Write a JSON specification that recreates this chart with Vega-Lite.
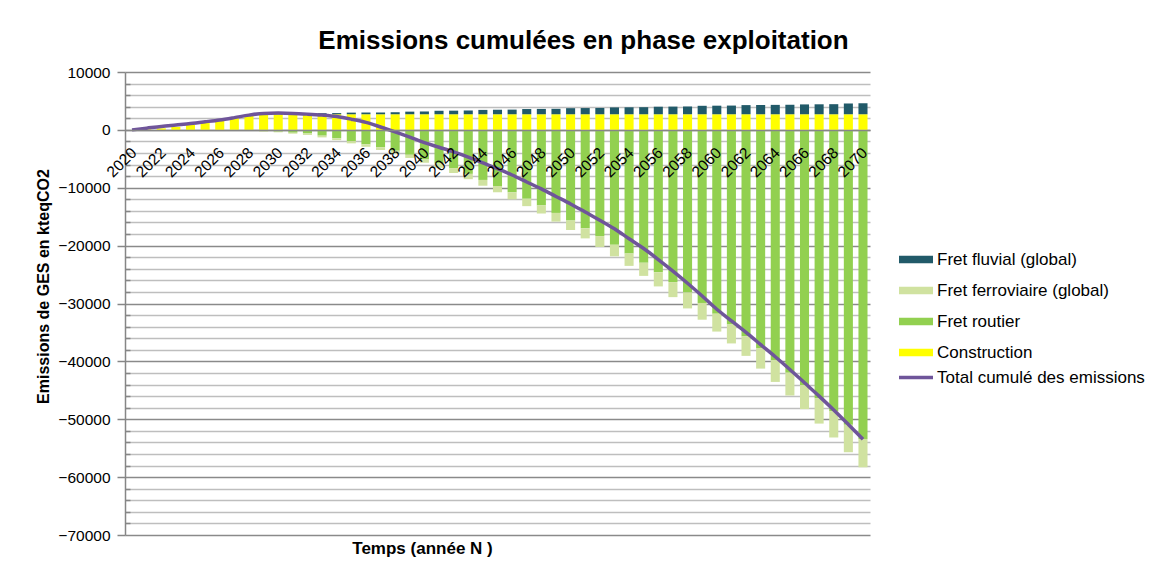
{
  "$schema": "https://vega.github.io/schema/vega-lite/v6.json",
  "width": 745,
  "height": 463,
  "autosize": {"type": "none"},
  "padding": {"left": 125, "top": 72, "right": 281, "bottom": 32},
  "background": "white",
  "config": {"view": {"stroke": null}, "font": "Liberation Sans"},
  "title": {
    "text": "Emissions cumulées en phase exploitation",
    "font": "Liberation Sans",
    "fontSize": 26,
    "fontWeight": "bold",
    "color": "black",
    "anchor": "middle",
    "dx": 86,
    "offset": 11
  },
  "data": {
    "values": [
      {"annee": 2021, "poste": "Construction", "valeur": 100},
      {"annee": 2022, "poste": "Construction", "valeur": 270},
      {"annee": 2023, "poste": "Construction", "valeur": 530},
      {"annee": 2024, "poste": "Construction", "valeur": 880},
      {"annee": 2025, "poste": "Construction", "valeur": 1280},
      {"annee": 2026, "poste": "Construction", "valeur": 1680},
      {"annee": 2027, "poste": "Construction", "valeur": 2060},
      {"annee": 2028, "poste": "Construction", "valeur": 2450},
      {"annee": 2029, "poste": "Construction", "valeur": 2620},
      {"annee": 2030, "poste": "Construction", "valeur": 2680},
      {"annee": 2031, "poste": "Construction", "valeur": 2700},
      {"annee": 2032, "poste": "Construction", "valeur": 2700},
      {"annee": 2033, "poste": "Construction", "valeur": 2700},
      {"annee": 2034, "poste": "Construction", "valeur": 2700},
      {"annee": 2035, "poste": "Construction", "valeur": 2700},
      {"annee": 2036, "poste": "Construction", "valeur": 2700},
      {"annee": 2037, "poste": "Construction", "valeur": 2700},
      {"annee": 2038, "poste": "Construction", "valeur": 2700},
      {"annee": 2039, "poste": "Construction", "valeur": 2700},
      {"annee": 2040, "poste": "Construction", "valeur": 2700},
      {"annee": 2041, "poste": "Construction", "valeur": 2700},
      {"annee": 2042, "poste": "Construction", "valeur": 2700},
      {"annee": 2043, "poste": "Construction", "valeur": 2700},
      {"annee": 2044, "poste": "Construction", "valeur": 2700},
      {"annee": 2045, "poste": "Construction", "valeur": 2700},
      {"annee": 2046, "poste": "Construction", "valeur": 2700},
      {"annee": 2047, "poste": "Construction", "valeur": 2700},
      {"annee": 2048, "poste": "Construction", "valeur": 2700},
      {"annee": 2049, "poste": "Construction", "valeur": 2700},
      {"annee": 2050, "poste": "Construction", "valeur": 2700},
      {"annee": 2051, "poste": "Construction", "valeur": 2700},
      {"annee": 2052, "poste": "Construction", "valeur": 2700},
      {"annee": 2053, "poste": "Construction", "valeur": 2700},
      {"annee": 2054, "poste": "Construction", "valeur": 2700},
      {"annee": 2055, "poste": "Construction", "valeur": 2700},
      {"annee": 2056, "poste": "Construction", "valeur": 2700},
      {"annee": 2057, "poste": "Construction", "valeur": 2700},
      {"annee": 2058, "poste": "Construction", "valeur": 2700},
      {"annee": 2059, "poste": "Construction", "valeur": 2700},
      {"annee": 2060, "poste": "Construction", "valeur": 2700},
      {"annee": 2061, "poste": "Construction", "valeur": 2700},
      {"annee": 2062, "poste": "Construction", "valeur": 2700},
      {"annee": 2063, "poste": "Construction", "valeur": 2700},
      {"annee": 2064, "poste": "Construction", "valeur": 2700},
      {"annee": 2065, "poste": "Construction", "valeur": 2700},
      {"annee": 2066, "poste": "Construction", "valeur": 2700},
      {"annee": 2067, "poste": "Construction", "valeur": 2700},
      {"annee": 2068, "poste": "Construction", "valeur": 2700},
      {"annee": 2069, "poste": "Construction", "valeur": 2700},
      {"annee": 2070, "poste": "Construction", "valeur": 2700},

      {"annee": 2030, "poste": "Fret fluvial (global)", "valeur": 50},
      {"annee": 2031, "poste": "Fret fluvial (global)", "valeur": 120},
      {"annee": 2032, "poste": "Fret fluvial (global)", "valeur": 150},
      {"annee": 2033, "poste": "Fret fluvial (global)", "valeur": 180},
      {"annee": 2034, "poste": "Fret fluvial (global)", "valeur": 200},
      {"annee": 2035, "poste": "Fret fluvial (global)", "valeur": 280},
      {"annee": 2036, "poste": "Fret fluvial (global)", "valeur": 300},
      {"annee": 2037, "poste": "Fret fluvial (global)", "valeur": 320},
      {"annee": 2038, "poste": "Fret fluvial (global)", "valeur": 350},
      {"annee": 2039, "poste": "Fret fluvial (global)", "valeur": 450},
      {"annee": 2040, "poste": "Fret fluvial (global)", "valeur": 480},
      {"annee": 2041, "poste": "Fret fluvial (global)", "valeur": 600},
      {"annee": 2042, "poste": "Fret fluvial (global)", "valeur": 620},
      {"annee": 2043, "poste": "Fret fluvial (global)", "valeur": 650},
      {"annee": 2044, "poste": "Fret fluvial (global)", "valeur": 750},
      {"annee": 2045, "poste": "Fret fluvial (global)", "valeur": 780},
      {"annee": 2046, "poste": "Fret fluvial (global)", "valeur": 800},
      {"annee": 2047, "poste": "Fret fluvial (global)", "valeur": 900},
      {"annee": 2048, "poste": "Fret fluvial (global)", "valeur": 920},
      {"annee": 2049, "poste": "Fret fluvial (global)", "valeur": 940},
      {"annee": 2050, "poste": "Fret fluvial (global)", "valeur": 1050},
      {"annee": 2051, "poste": "Fret fluvial (global)", "valeur": 1070},
      {"annee": 2052, "poste": "Fret fluvial (global)", "valeur": 1090},
      {"annee": 2053, "poste": "Fret fluvial (global)", "valeur": 1180},
      {"annee": 2054, "poste": "Fret fluvial (global)", "valeur": 1200},
      {"annee": 2055, "poste": "Fret fluvial (global)", "valeur": 1220},
      {"annee": 2056, "poste": "Fret fluvial (global)", "valeur": 1300},
      {"annee": 2057, "poste": "Fret fluvial (global)", "valeur": 1320},
      {"annee": 2058, "poste": "Fret fluvial (global)", "valeur": 1340},
      {"annee": 2059, "poste": "Fret fluvial (global)", "valeur": 1460},
      {"annee": 2060, "poste": "Fret fluvial (global)", "valeur": 1480},
      {"annee": 2061, "poste": "Fret fluvial (global)", "valeur": 1500},
      {"annee": 2062, "poste": "Fret fluvial (global)", "valeur": 1580},
      {"annee": 2063, "poste": "Fret fluvial (global)", "valeur": 1600},
      {"annee": 2064, "poste": "Fret fluvial (global)", "valeur": 1620},
      {"annee": 2065, "poste": "Fret fluvial (global)", "valeur": 1640},
      {"annee": 2066, "poste": "Fret fluvial (global)", "valeur": 1700},
      {"annee": 2067, "poste": "Fret fluvial (global)", "valeur": 1720},
      {"annee": 2068, "poste": "Fret fluvial (global)", "valeur": 1740},
      {"annee": 2069, "poste": "Fret fluvial (global)", "valeur": 1860},
      {"annee": 2070, "poste": "Fret fluvial (global)", "valeur": 1900},

      {"annee": 2028, "poste": "Fret routier", "valeur": -50},
      {"annee": 2029, "poste": "Fret routier", "valeur": -200},
      {"annee": 2030, "poste": "Fret routier", "valeur": -300},
      {"annee": 2031, "poste": "Fret routier", "valeur": -490},
      {"annee": 2032, "poste": "Fret routier", "valeur": -620},
      {"annee": 2033, "poste": "Fret routier", "valeur": -1000},
      {"annee": 2034, "poste": "Fret routier", "valeur": -1450},
      {"annee": 2035, "poste": "Fret routier", "valeur": -1950},
      {"annee": 2036, "poste": "Fret routier", "valeur": -2500},
      {"annee": 2037, "poste": "Fret routier", "valeur": -3000},
      {"annee": 2038, "poste": "Fret routier", "valeur": -3600},
      {"annee": 2039, "poste": "Fret routier", "valeur": -4300},
      {"annee": 2040, "poste": "Fret routier", "valeur": -5100},
      {"annee": 2041, "poste": "Fret routier", "valeur": -5800},
      {"annee": 2042, "poste": "Fret routier", "valeur": -6600},
      {"annee": 2043, "poste": "Fret routier", "valeur": -7600},
      {"annee": 2044, "poste": "Fret routier", "valeur": -8650},
      {"annee": 2045, "poste": "Fret routier", "valeur": -9700},
      {"annee": 2046, "poste": "Fret routier", "valeur": -10800},
      {"annee": 2047, "poste": "Fret routier", "valeur": -11900},
      {"annee": 2048, "poste": "Fret routier", "valeur": -13050},
      {"annee": 2049, "poste": "Fret routier", "valeur": -14350},
      {"annee": 2050, "poste": "Fret routier", "valeur": -15650},
      {"annee": 2051, "poste": "Fret routier", "valeur": -17000},
      {"annee": 2052, "poste": "Fret routier", "valeur": -18350},
      {"annee": 2053, "poste": "Fret routier", "valeur": -19850},
      {"annee": 2054, "poste": "Fret routier", "valeur": -21350},
      {"annee": 2055, "poste": "Fret routier", "valeur": -22950},
      {"annee": 2056, "poste": "Fret routier", "valeur": -24600},
      {"annee": 2057, "poste": "Fret routier", "valeur": -26300},
      {"annee": 2058, "poste": "Fret routier", "valeur": -28100},
      {"annee": 2059, "poste": "Fret routier", "valeur": -29900},
      {"annee": 2060, "poste": "Fret routier", "valeur": -31750},
      {"annee": 2061, "poste": "Fret routier", "valeur": -33650},
      {"annee": 2062, "poste": "Fret routier", "valeur": -35650},
      {"annee": 2063, "poste": "Fret routier", "valeur": -37700},
      {"annee": 2064, "poste": "Fret routier", "valeur": -39800},
      {"annee": 2065, "poste": "Fret routier", "valeur": -41950},
      {"annee": 2066, "poste": "Fret routier", "valeur": -44100},
      {"annee": 2067, "poste": "Fret routier", "valeur": -46350},
      {"annee": 2068, "poste": "Fret routier", "valeur": -48600},
      {"annee": 2069, "poste": "Fret routier", "valeur": -50950},
      {"annee": 2070, "poste": "Fret routier", "valeur": -53400},

      {"annee": 2028, "poste": "Fret ferroviaire (global)", "valeur": -20},
      {"annee": 2029, "poste": "Fret ferroviaire (global)", "valeur": -100},
      {"annee": 2030, "poste": "Fret ferroviaire (global)", "valeur": -120},
      {"annee": 2031, "poste": "Fret ferroviaire (global)", "valeur": -170},
      {"annee": 2032, "poste": "Fret ferroviaire (global)", "valeur": -250},
      {"annee": 2033, "poste": "Fret ferroviaire (global)", "valeur": -300},
      {"annee": 2034, "poste": "Fret ferroviaire (global)", "valeur": -330},
      {"annee": 2035, "poste": "Fret ferroviaire (global)", "valeur": -380},
      {"annee": 2036, "poste": "Fret ferroviaire (global)", "valeur": -420},
      {"annee": 2037, "poste": "Fret ferroviaire (global)", "valeur": -480},
      {"annee": 2038, "poste": "Fret ferroviaire (global)", "valeur": -520},
      {"annee": 2039, "poste": "Fret ferroviaire (global)", "valeur": -550},
      {"annee": 2040, "poste": "Fret ferroviaire (global)", "valeur": -580},
      {"annee": 2041, "poste": "Fret ferroviaire (global)", "valeur": -750},
      {"annee": 2042, "poste": "Fret ferroviaire (global)", "valeur": -850},
      {"annee": 2043, "poste": "Fret ferroviaire (global)", "valeur": -920},
      {"annee": 2044, "poste": "Fret ferroviaire (global)", "valeur": -1000},
      {"annee": 2045, "poste": "Fret ferroviaire (global)", "valeur": -1080},
      {"annee": 2046, "poste": "Fret ferroviaire (global)", "valeur": -1200},
      {"annee": 2047, "poste": "Fret ferroviaire (global)", "valeur": -1280},
      {"annee": 2048, "poste": "Fret ferroviaire (global)", "valeur": -1400},
      {"annee": 2049, "poste": "Fret ferroviaire (global)", "valeur": -1500},
      {"annee": 2050, "poste": "Fret ferroviaire (global)", "valeur": -1650},
      {"annee": 2051, "poste": "Fret ferroviaire (global)", "valeur": -1750},
      {"annee": 2052, "poste": "Fret ferroviaire (global)", "valeur": -1880},
      {"annee": 2053, "poste": "Fret ferroviaire (global)", "valeur": -2000},
      {"annee": 2054, "poste": "Fret ferroviaire (global)", "valeur": -2150},
      {"annee": 2055, "poste": "Fret ferroviaire (global)", "valeur": -2280},
      {"annee": 2056, "poste": "Fret ferroviaire (global)", "valeur": -2450},
      {"annee": 2057, "poste": "Fret ferroviaire (global)", "valeur": -2600},
      {"annee": 2058, "poste": "Fret ferroviaire (global)", "valeur": -2750},
      {"annee": 2059, "poste": "Fret ferroviaire (global)", "valeur": -2900},
      {"annee": 2060, "poste": "Fret ferroviaire (global)", "valeur": -3100},
      {"annee": 2061, "poste": "Fret ferroviaire (global)", "valeur": -3250},
      {"annee": 2062, "poste": "Fret ferroviaire (global)", "valeur": -3400},
      {"annee": 2063, "poste": "Fret ferroviaire (global)", "valeur": -3550},
      {"annee": 2064, "poste": "Fret ferroviaire (global)", "valeur": -3750},
      {"annee": 2065, "poste": "Fret ferroviaire (global)", "valeur": -3950},
      {"annee": 2066, "poste": "Fret ferroviaire (global)", "valeur": -4150},
      {"annee": 2067, "poste": "Fret ferroviaire (global)", "valeur": -4400},
      {"annee": 2068, "poste": "Fret ferroviaire (global)", "valeur": -4550},
      {"annee": 2069, "poste": "Fret ferroviaire (global)", "valeur": -4750},
      {"annee": 2070, "poste": "Fret ferroviaire (global)", "valeur": -4900},

      {"annee": 2020, "poste": "Total cumulé des emissions", "valeur": 0},
      {"annee": 2021, "poste": "Total cumulé des emissions", "valeur": 300},
      {"annee": 2022, "poste": "Total cumulé des emissions", "valeur": 600},
      {"annee": 2023, "poste": "Total cumulé des emissions", "valeur": 850},
      {"annee": 2024, "poste": "Total cumulé des emissions", "valeur": 1100},
      {"annee": 2025, "poste": "Total cumulé des emissions", "valeur": 1400},
      {"annee": 2026, "poste": "Total cumulé des emissions", "valeur": 1720},
      {"annee": 2027, "poste": "Total cumulé des emissions", "valeur": 2120},
      {"annee": 2028, "poste": "Total cumulé des emissions", "valeur": 2550},
      {"annee": 2029, "poste": "Total cumulé des emissions", "valeur": 2850},
      {"annee": 2030, "poste": "Total cumulé des emissions", "valeur": 2900},
      {"annee": 2031, "poste": "Total cumulé des emissions", "valeur": 2850},
      {"annee": 2032, "poste": "Total cumulé des emissions", "valeur": 2720},
      {"annee": 2033, "poste": "Total cumulé des emissions", "valeur": 2550},
      {"annee": 2034, "poste": "Total cumulé des emissions", "valeur": 2300},
      {"annee": 2035, "poste": "Total cumulé des emissions", "valeur": 1850},
      {"annee": 2036, "poste": "Total cumulé des emissions", "valeur": 1300},
      {"annee": 2037, "poste": "Total cumulé des emissions", "valeur": 500},
      {"annee": 2038, "poste": "Total cumulé des emissions", "valeur": -350},
      {"annee": 2039, "poste": "Total cumulé des emissions", "valeur": -1250},
      {"annee": 2040, "poste": "Total cumulé des emissions", "valeur": -2200},
      {"annee": 2041, "poste": "Total cumulé des emissions", "valeur": -3000},
      {"annee": 2042, "poste": "Total cumulé des emissions", "valeur": -3800},
      {"annee": 2043, "poste": "Total cumulé des emissions", "valeur": -4700},
      {"annee": 2044, "poste": "Total cumulé des emissions", "valeur": -5700},
      {"annee": 2045, "poste": "Total cumulé des emissions", "valeur": -6700},
      {"annee": 2046, "poste": "Total cumulé des emissions", "valeur": -7800},
      {"annee": 2047, "poste": "Total cumulé des emissions", "valeur": -9000},
      {"annee": 2048, "poste": "Total cumulé des emissions", "valeur": -10200},
      {"annee": 2049, "poste": "Total cumulé des emissions", "valeur": -11500},
      {"annee": 2050, "poste": "Total cumulé des emissions", "valeur": -12800},
      {"annee": 2051, "poste": "Total cumulé des emissions", "valeur": -14200},
      {"annee": 2052, "poste": "Total cumulé des emissions", "valeur": -15600},
      {"annee": 2053, "poste": "Total cumulé des emissions", "valeur": -17100},
      {"annee": 2054, "poste": "Total cumulé des emissions", "valeur": -18800},
      {"annee": 2055, "poste": "Total cumulé des emissions", "valeur": -20500},
      {"annee": 2056, "poste": "Total cumulé des emissions", "valeur": -22400},
      {"annee": 2057, "poste": "Total cumulé des emissions", "valeur": -24400},
      {"annee": 2058, "poste": "Total cumulé des emissions", "valeur": -26500},
      {"annee": 2059, "poste": "Total cumulé des emissions", "valeur": -28700},
      {"annee": 2060, "poste": "Total cumulé des emissions", "valeur": -31000},
      {"annee": 2061, "poste": "Total cumulé des emissions", "valeur": -33000},
      {"annee": 2062, "poste": "Total cumulé des emissions", "valeur": -35000},
      {"annee": 2063, "poste": "Total cumulé des emissions", "valeur": -37100},
      {"annee": 2064, "poste": "Total cumulé des emissions", "valeur": -39200},
      {"annee": 2065, "poste": "Total cumulé des emissions", "valeur": -41400},
      {"annee": 2066, "poste": "Total cumulé des emissions", "valeur": -43700},
      {"annee": 2067, "poste": "Total cumulé des emissions", "valeur": -46000},
      {"annee": 2068, "poste": "Total cumulé des emissions", "valeur": -48400},
      {"annee": 2069, "poste": "Total cumulé des emissions", "valeur": -50900},
      {"annee": 2070, "poste": "Total cumulé des emissions", "valeur": -53450}
    ]
  },
  "encoding": {
    "x": {
      "field": "annee",
      "type": "ordinal",
      "scale": {"paddingInner": 0.38, "paddingOuter": 0.17},
      "axis": {
        "values": [2020, 2022, 2024, 2026, 2028, 2030, 2032, 2034, 2036, 2038, 2040, 2042, 2044, 2046, 2048, 2050, 2052, 2054, 2056, 2058, 2060, 2062, 2064, 2066, 2068, 2070],
        "offset": -405.125,
        "zindex": 1,
        "grid": false,
        "ticks": false,
        "domainColor": "#868686",
        "domainWidth": 1.5,
        "labelAngle": -45,
        "labelFont": "Liberation Sans",
        "labelFontSize": 15.5,
        "labelColor": "black",
        "labelPadding": 15,
        "labelOffset": -3,
        "labelOverlap": false,
        "labelBound": false,
        "title": "Temps (année N )",
        "titleFont": "Liberation Sans",
        "titleFontSize": 17,
        "titleFontWeight": "bold",
        "titleColor": "black",
        "titleX": 297,
        "titleY": 424,
        "titleAlign": "center",
        "titleBaseline": "alphabetic"
      }
    },
    "y": {
      "field": "valeur",
      "type": "quantitative",
      "scale": {"domain": [-70000, 10000], "nice": false, "zero": false},
      "axis": {
        "values": [-70000, -68000, -66000, -64000, -62000, -60000, -58000, -56000, -54000, -52000, -50000, -48000, -46000, -44000, -42000, -40000, -38000, -36000, -34000, -32000, -30000, -28000, -26000, -24000, -22000, -20000, -18000, -16000, -14000, -12000, -10000, -8000, -6000, -4000, -2000, 0, 2000, 4000, 6000, 8000, 10000],
        "labelExpr": "datum.value % 10000 === 0 ? format(datum.value, 'd') : ''",
        "labelFont": "Liberation Sans",
        "labelFontSize": 15.5,
        "labelColor": "black",
        "labelPadding": 7,
        "grid": true,
        "gridColor": {"condition": {"test": "datum.value % 10000 === 0", "value": "#8A8A8A"}, "value": "#BEBEBE"},
        "gridWidth": 1.5,
        "domainColor": "#868686",
        "domainWidth": 1.5,
        "tickColor": "#868686",
        "tickWidth": 1.5,
        "tickSize": {"condition": {"test": "datum.value % 10000 === 0", "value": 8}, "value": -5},
        "title": "Emissions de GES en kteqCO2",
        "titleFont": "Liberation Sans",
        "titleFontSize": 16,
        "titleFontWeight": "bold",
        "titleColor": "black",
        "titleAngle": 270,
        "titleX": -82,
        "titleY": 214,
        "titleAlign": "center",
        "titleBaseline": "middle"
      }
    },
    "color": {
      "field": "poste",
      "type": "nominal",
      "scale": {
        "domain": ["Fret fluvial (global)", "Fret ferroviaire (global)", "Fret routier", "Construction", "Total cumulé des emissions"],
        "range": ["#215A69", "#D0E2A0", "#92D050", "#FFFF00", "#6F559A"]
      },
      "legend": {
        "title": null,
        "orient": "none",
        "legendX": 782.5,
        "legendY": 179,
        "padding": 0,
        "symbolType": "M-2,0H2",
        "symbolSize": 289,
        "rowPadding": 0,
        "labelOffset": 12.5,
        "labelFont": "Liberation Sans",
        "labelFontSize": 17,
        "labelColor": "black",
        "labelLimit": 400,
        "encode": {
          "symbols": {
            "update": {
              "stroke": {"signal": "scale('color', datum.value)"},
              "strokeWidth": {"signal": "datum.value === 'Total cumulé des emissions' ? 3.5 : 7.5"},
              "fill": {"value": "transparent"},
              "opacity": {"value": 1}
            }
          }
        }
      }
    }
  },
  "layer": [
    {
      "transform": [{"filter": {"field": "poste", "oneOf": ["Construction", "Fret fluvial (global)"]}}],
      "mark": {"type": "bar"},
      "encoding": {"order": {"field": "poste", "type": "nominal", "sort": "ascending"}}
    },
    {
      "transform": [{"filter": {"field": "poste", "oneOf": ["Fret routier", "Fret ferroviaire (global)"]}}],
      "mark": {"type": "bar"},
      "encoding": {"order": {"field": "poste", "type": "nominal", "sort": "descending"}}
    },
    {
      "transform": [{"filter": {"field": "poste", "equal": "Total cumulé des emissions"}}],
      "mark": {"type": "line", "strokeWidth": 3.5, "interpolate": "monotone"},
      "encoding": {}
    }
  ]
}
